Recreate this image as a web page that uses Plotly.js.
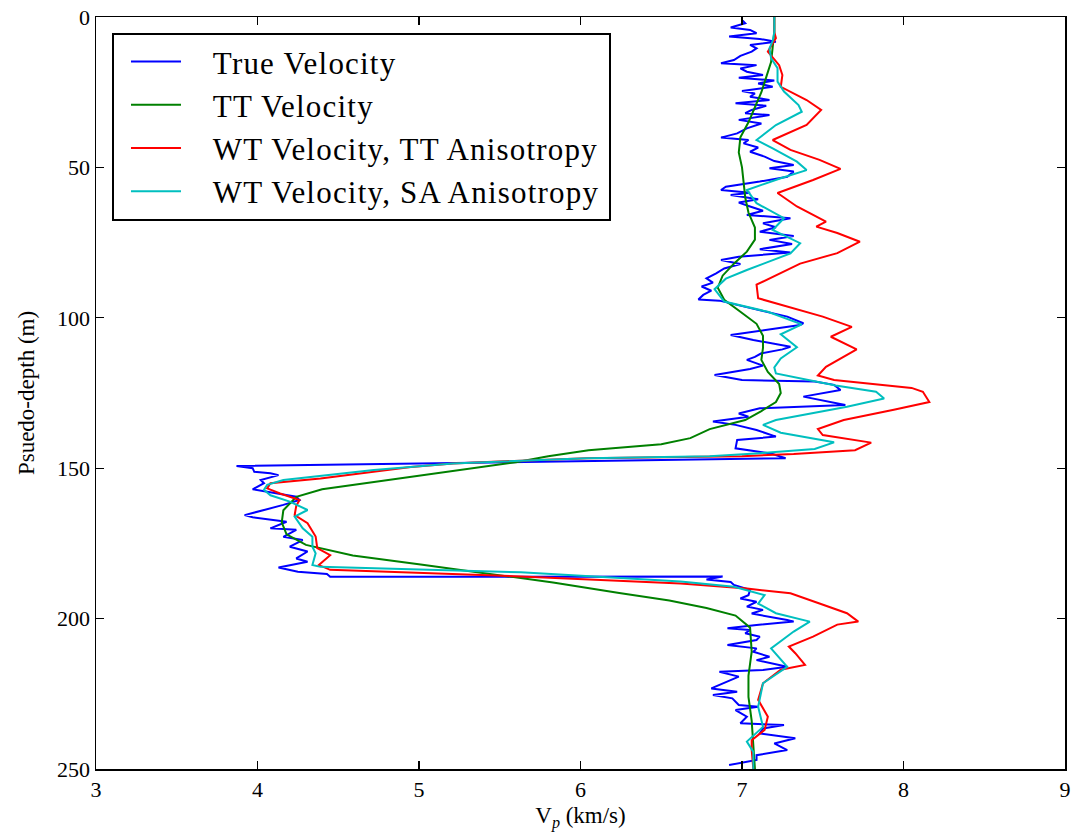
<!DOCTYPE html>
<html>
<head>
<meta charset="utf-8">
<script src="https://cdn.plot.ly/plotly-3.0.1.min.js"></script>
<style>html,body{margin:0;padding:0;background:#fff;}#chart{width:1073px;height:834px;}
#chart .legendtext{letter-spacing:1.2px;}
#chart .xtitle, #chart .ytitle, #chart .xtick text, #chart .ytick text{font-family:"Liberation Serif", serif !important;}</style>
</head>
<body>
<div id="chart"></div>
<script>
// ---- True Velocity ----
const trueDepth = [0.0,1.0,2.1,3.5,4.3,5.4,6.5,7.3,8.2,9.3,10.4,11.5,12.9,14.3,15.4,16.0,17.1,18.2,19.3,20.2,21.1,22.1,23.2,24.6,25.4,26.5,27.6,28.7,29.5,30.9,32.0,32.6,34.2,35.4,37.0,38.7,40.1,40.9,42.0,43.4,44.8,46.4,47.9,49.2,50.3,51.4,53.1,54.7,56.4,57.5,58.4,59.2,60.6,61.7,63.0,64.4,65.8,66.9,68.6,69.9,71.4,72.8,74.1,75.5,77.2,78.3,79.7,80.8,82.1,83.6,85.2,86.9,88.3,89.6,91.0,92.4,93.9,94.3,95.7,97.4,99.6,101.8,102.4,105.7,106.5,107.4,109.6,110.5,111.8,113.0,114.0,115.9,117.0,119.0,120.7,121.2,122.3,124.0,126.2,128.4,129.0,130.1,131.8,132.9,134.5,135.6,137.3,139.5,140.6,143.4,145.1,146.7,149.3,150.0,151.2,151.7,152.3,153.9,155.0,157.0,157.8,159.5,160.6,162.2,165.6,166.3,167.8,170.0,170.5,172.8,173.9,176.1,177.7,180.0,181.1,183.0,184.4,185.2,186.1,186.0,187.0,187.8,188.8,190.5,192.2,193.3,194.4,196.0,197.1,198.3,200.5,201.0,202.1,203.2,203.8,204.9,206.0,207.1,208.8,209.9,211.0,212.7,213.8,216.0,217.1,217.7,219.3,221.5,223.2,224.3,225.4,226.5,228.7,229.3,230.4,232.6,234.8,235.4,236.5,238.2,239.8,241.5,243.7,245.4,247.0,248.7];
const trueVel = [7.00,7.00,7.02,6.93,7.05,7.09,6.92,7.11,7.21,7.05,7.09,7.06,6.99,6.95,6.87,7.09,6.99,7.03,7.13,6.98,7.20,7.10,7.19,7.00,7.08,7.05,7.17,6.96,7.15,7.06,7.02,7.17,6.98,7.12,7.03,6.97,6.87,7.04,7.01,7.10,7.05,7.14,7.20,7.32,7.17,7.32,7.28,7.11,6.90,6.87,7.05,6.93,7.10,6.98,7.05,7.13,7.03,7.30,7.13,7.21,7.11,7.32,7.17,7.31,7.11,7.30,6.98,6.87,6.99,6.89,6.84,6.78,6.82,6.75,6.81,6.76,6.73,6.86,6.97,7.11,7.28,7.38,7.36,6.93,7.00,7.07,7.30,7.25,7.12,7.08,7.03,7.13,7.05,6.83,7.00,7.45,7.57,7.61,7.38,7.57,7.64,7.11,6.98,7.04,6.82,6.96,7.09,7.21,6.97,6.96,7.18,7.27,3.87,3.97,3.98,4.08,4.13,4.02,4.04,3.97,4.06,4.24,4.26,4.16,3.92,3.97,4.18,4.08,4.24,4.16,4.28,4.20,4.31,4.24,4.31,4.13,4.25,4.43,4.45,6.88,6.78,6.93,6.95,7.05,7.04,6.99,7.09,7.03,7.13,7.06,7.28,7.32,7.09,6.91,7.05,7.02,7.11,7.09,6.91,7.09,7.07,7.17,7.09,7.28,7.13,6.86,6.98,6.88,6.81,6.97,6.82,6.94,6.98,7.10,6.96,7.03,6.99,7.26,7.13,7.11,7.33,7.20,7.28,7.09,7.09,6.92];

// ---- TT Velocity ----
const ttDepth = [0,5,10,15,20,25,30,35,40,45,50,55,60,65,70,74,78,82,86,90,94,98,102,106,110,114,118,122,125,128,131,134,137,140,142,144,146,148,151,154,157,159.5,164,168,172,175.5,179,182,185,188,191.5,194,196.5,199,203,211,219,226,234,242,250];
const ttVel = [7.20,7.20,7.19,7.18,7.15,7.12,7.08,7.04,6.99,6.98,7.00,7.01,7.02,7.04,7.08,7.08,7.03,6.95,6.88,6.85,6.89,6.99,7.09,7.13,7.13,7.12,7.16,7.23,7.24,7.21,7.12,7.02,6.80,6.68,6.50,6.05,5.80,5.60,5.20,4.80,4.40,4.24,4.16,4.15,4.18,4.30,4.59,5.01,5.42,5.83,6.24,6.55,6.78,6.96,7.05,7.06,7.04,7.04,7.06,7.07,7.08];

// ---- WT Velocity, TT Anisotropy ----
const wtTTDepth = [0,5,7,11.5,16,19.3,23.2,24.8,27.6,30.9,35.9,40.9,44.2,47.5,50.5,54.2,58.5,63,68,69.7,71.8,74.7,78.5,82,84.1,89,93.5,96.3,99.6,103,106.3,110.5,113.5,116.3,119.2,120.7,123.3,124.6,128,130.6,134,137,139,141.5,144,145.3,146.0,146.7,147.5,148.4,149.6,151.2,153.4,155,156.7,158.4,160.6,162.5,165.6,168.3,172.7,176.6,178.9,182.2,183.8,186,188.3,190,191.6,195,198.2,201,202,206,209.3,211.5,215.4,217,221.5,227,232.6,237,240.4,243.7,250];
const wtTTVel = [7.20,7.20,7.21,7.16,7.23,7.25,7.24,7.30,7.40,7.49,7.40,7.19,7.30,7.48,7.61,7.44,7.22,7.34,7.52,7.46,7.59,7.73,7.59,7.36,7.28,7.09,7.10,7.28,7.50,7.68,7.55,7.71,7.61,7.52,7.47,7.57,8.05,8.12,8.16,7.94,7.63,7.47,7.50,7.80,7.70,7.32,7.00,6.04,5.63,5.21,4.95,4.72,4.39,4.08,4.06,4.14,4.26,4.24,4.23,4.31,4.36,4.37,4.45,4.38,4.45,5.63,6.62,7.03,7.30,7.48,7.65,7.72,7.59,7.44,7.29,7.33,7.39,7.24,7.13,7.10,7.16,7.14,7.06,7.06,7.07];

// ---- WT Velocity, SA Anisotropy ----
const wtSADepth = [0,5,8,10.4,13.7,17,21.5,24.8,29.3,31.5,35.9,40.9,43.7,48.1,50.9,53.6,57.5,61.9,66.9,70.8,75.2,78.6,84.1,87,90.5,94.6,98,102.2,105.5,109.8,113.5,116.5,118.5,122.5,124.6,126.8,129.6,134,135.6,138.2,141.4,143.6,145,146.0,146.7,147.5,148.4,150.6,152.5,153.9,155.5,157.2,159,161.1,163.9,166.1,170,172.8,176.1,178.3,182.2,182.8,184.6,187.7,189.4,192.2,195,198.2,201,204.3,209.9,216,221.5,229.3,236,240.9,244.3,250];
const wtSAVel = [7.20,7.20,7.19,7.17,7.18,7.22,7.22,7.26,7.35,7.37,7.21,7.09,7.19,7.34,7.40,7.24,7.03,7.09,7.26,7.19,7.36,7.30,7.03,6.90,6.83,6.89,7.16,7.37,7.24,7.34,7.24,7.20,7.21,7.58,7.83,7.88,7.65,7.21,7.13,7.24,7.57,7.45,7.11,6.80,6.04,5.63,5.21,4.72,4.40,4.16,4.06,4.04,4.08,4.20,4.31,4.23,4.28,4.34,4.34,4.36,4.34,4.39,5.63,6.62,6.95,7.14,7.10,7.21,7.42,7.32,7.18,7.28,7.13,7.10,7.13,7.03,7.07,7.07];

const seriesNames = ['True Velocity','TT Velocity','WT Velocity, TT Anisotropy','WT Velocity, SA Anisotropy'];
const xTicks = [3,4,5,6,7,8,9];
const yTicks = [0,50,100,150,200,250];

const colors = ['#0000ff','#008000','#ff0000','#00bfbf'];
const xs = [trueVel, ttVel, wtTTVel, wtSAVel];
const ys = [trueDepth, ttDepth, wtTTDepth, wtSADepth];
const lead = '\u00a0\u00a0\u00a0';
const trail = '\u00a0\u00a0\u00a0\u00a0\u00a0';

const traces = xs.map((x,i)=>({
  type:'scatter', mode:'lines', x:x, y:ys[i], name:lead + seriesNames[i] + trail,
  line:{color:colors[i], width:2}
}));

const FAM = 'Liberation Serif, DejaVu Serif, serif';
const axisCommon = {
  showgrid:false, zeroline:false, showline:true, linecolor:'#000', linewidth:1.5,
  mirror:'ticks', ticks:'inside', ticklen:8, tickwidth:1.2, tickcolor:'#000',
  tickfont:{family:FAM, size:22, color:'#000'}
};

const layout = {
  width:1073, height:834,
  margin:{l:96, r:8, t:17, b:65},
  paper_bgcolor:'#fff', plot_bgcolor:'#fff',
  font:{family:FAM, color:'#000'},
  showlegend:true,
  xaxis:Object.assign({}, axisCommon, {
    range:[3,9], tickvals:xTicks, ticktext:xTicks.map(String),
    title:{text:'V<sub><i>p</i></sub> (km/s)', font:{family:FAM, size:23, color:'#000'}, standoff:6}
  }),
  yaxis:Object.assign({}, axisCommon, {
    range:[250,0], tickvals:yTicks, ticktext:yTicks.map(String),
    title:{text:'Psuedo-depth (m)', font:{family:FAM, size:23, color:'#000'}, standoff:16}
  }),
  legend:{
    x:0.0165, y:0.979, xanchor:'left', yanchor:'top',
    bgcolor:'#fff', bordercolor:'#000', borderwidth:2,
    font:{family:FAM, size:31, color:'#000'},
    itemwidth:50, indentation:12, tracegroupgap:0
  }
};

Plotly.newPlot('chart', traces, layout, {displayModeBar:false, staticPlot:true});
</script>
</body>
</html>
